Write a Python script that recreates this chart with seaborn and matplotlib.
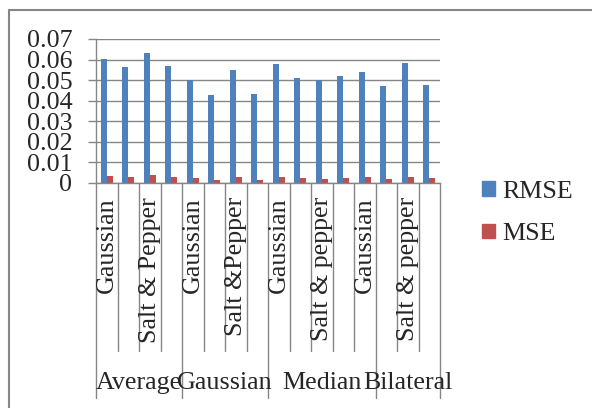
import matplotlib
matplotlib.use("Agg")
import matplotlib.pyplot as plt
import matplotlib.patches as mpatches
import matplotlib.transforms as mtransforms
from matplotlib.lines import Line2D
import seaborn as sns
import pandas as pd

# Filters and how many result slots each one occupies on the category axis
filters = ["Average", "Gaussian", "Median", "Bilateral"]
filter_sizes = [4, 4, 5, 3]

# Noise type label per slot (alternate slots carry no printed label)
noise_labels = ["Gaussian", "", "Salt & Pepper", "",
                "Gaussian", "", "Salt &Pepper", "",
                "Gaussian", "", "Salt & pepper", "",
                "Gaussian", "", "Salt & pepper", ""]

rmse = [0.0601, 0.0566, 0.0632, 0.0569, 0.0499, 0.0429, 0.0551, 0.0433,
        0.0580, 0.0511, 0.0501, 0.0519, 0.0540, 0.0470, 0.0585, 0.0476]
mse = [0.0036, 0.0031, 0.0039, 0.0031, 0.0023, 0.0016, 0.0028, 0.0016,
       0.0031, 0.0024, 0.0021, 0.0024, 0.0028, 0.0019, 0.0029, 0.0023]

series_names = ["RMSE", "MSE"]
colors = {"RMSE": "#4F81BD", "MSE": "#C0504D"}
yticks = [0, 0.01, 0.02, 0.03, 0.04, 0.05, 0.06, 0.07]

n = len(rmse)
df = pd.DataFrame({
    "slot": list(range(n)) * 2,
    "value": rmse + mse,
    "metric": ["RMSE"] * n + ["MSE"] * n,
})

sns.set_style("white")
plt.rcParams["font.family"] = ["Liberation Serif", "DejaVu Serif"]
FS = 18.7
GRID = "#868686"

W, H = 592, 408
fig = plt.figure(figsize=(W / 100, H / 100), dpi=100)
ax = fig.add_axes([96 / W, (H - 183) / H, (440 - 96) / W, 144 / H])

sns.barplot(data=df, x="slot", y="value", hue="metric", hue_order=series_names,
            palette=colors, width=0.56, saturation=1, gap=0, ax=ax,
            legend=False, linewidth=0)

ax.set_xlim(-0.5, n - 0.5)
ax.set_ylim(0, 0.07)
ax.set_yticks(yticks)
ax.set_yticklabels([f"{t:g}" for t in yticks], fontsize=FS)
ax.set_xticks([])
ax.set_xlabel("")
ax.set_ylabel("")
ax.yaxis.grid(True, color=GRID, linewidth=1.0)
ax.set_axisbelow(True)
ax.tick_params(axis="y", direction="out", length=6, width=1.0, color=GRID, pad=11, left=True)
for side in ["top", "right"]:
    ax.spines[side].set_visible(False)
for side in ["left", "bottom"]:
    ax.spines[side].set_color(GRID)
    ax.spines[side].set_linewidth(1.0)

# Multi-level category axis drawn below the plot
trans = mtransforms.blended_transform_factory(ax.transData, ax.transAxes)
short_y = -(351 - 183) / 144
long_y = -(398 - 183) / 144
group_edges = [0]
for s in filter_sizes:
    group_edges.append(group_edges[-1] + s)
for k in range(n + 1):
    y_end = long_y if k in group_edges else short_y
    ax.add_line(Line2D([k - 0.5, k - 0.5], [0, y_end], transform=trans,
                       color=GRID, linewidth=1.0, clip_on=False))
for i, lab in enumerate(noise_labels):
    if lab:
        ax.text(i, -(197 - 183) / 144, lab, transform=trans, rotation=90,
                ha="center", va="top", fontsize=FS)
for g, name in enumerate(filters):
    center = (group_edges[g] + group_edges[g + 1]) / 2 - 0.5
    ax.text(center, -(383 - 183) / 144, name, transform=trans,
            ha="center", va="center", fontsize=FS)

handles = [mpatches.Patch(color=colors[s], label=s) for s in series_names]
fig.legend(handles=handles, loc="upper left",
           bbox_to_anchor=(482 / W, 1 - 181 / H), frameon=False,
           fontsize=FS, handlelength=0.5, handleheight=0.5,
           handletextpad=0.3, labelspacing=0.78, borderpad=0, borderaxespad=0)

# Chart border
fig.add_artist(Line2D([9 / W, 1.0], [1 - 10 / H, 1 - 10 / H],
                      transform=fig.transFigure, color=GRID, linewidth=1.5))
fig.add_artist(Line2D([9 / W, 9 / W], [0.0, 1 - 10 / H],
                      transform=fig.transFigure, color=GRID, linewidth=1.5))

fig.savefig("out.png", dpi=100)
